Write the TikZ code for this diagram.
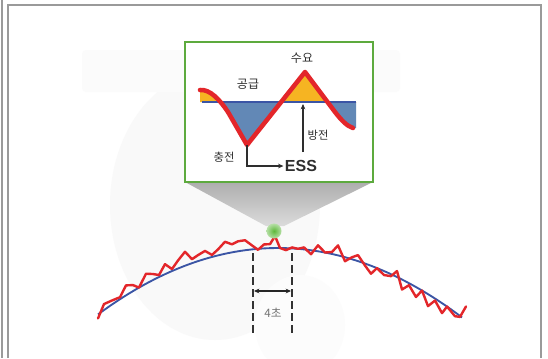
\documentclass[tikz,border=0pt]{standalone}
\usepackage{fontspec}
\setmainfont{Liberation Sans}
\newfontfamily\kr{Noto Sans CJK KR}
\usetikzlibrary{arrows.meta}
\definecolor{framegray}{HTML}{9A9A9A}
\definecolor{boxgreen}{HTML}{5DAA3E}
\definecolor{redline}{HTML}{E3262A}
\definecolor{blueline}{HTML}{3B55A5}
\definecolor{bluefill}{HTML}{6288B6}
\definecolor{orangefill}{HTML}{F6B422}
\definecolor{txt}{HTML}{2E2E2E}
\definecolor{dotgreen}{HTML}{5DB83A}
\begin{document}
\begin{tikzpicture}[x=0.75pt,y=-0.75pt,
  declare function={yc(\x)=248+(0.04528*(\x-278))^2;},
  lbl/.style={font=\kr\fontsize{9}{10}\selectfont, text=txt, inner sep=0pt},
  framestyle/.style={draw=framegray, line width=1.1pt},
  conn/.style={draw=txt, line width=0.8pt},
  dashv/.style={draw=black!80, line width=1.3pt, dash pattern=on 6pt off 3pt},
  jag/.style={draw=redline, line width=1.8pt, line join=round, line cap=round},
  arc/.style={draw=blueline, line width=1.4pt}]
\useasboundingbox (0,0) rectangle (548,358);
\fill[white] (0,0) rectangle (548,358);
% faint background shapes
\fill[black!2.5] (215,205) ellipse [x radius=105, y radius=135];
\fill[yellow!3!black!1.5] (300,325) ellipse [x radius=45, y radius=50];
\fill[black!1.5, rounded corners=3pt] (82,50) rectangle (400,92);
% frame
\draw[framestyle] (2,0) -- (2,358);
\draw[framestyle] (8,358) -- (8,5) -- (541,5) -- (541,358);
% funnel
\shade[top color=black!32, bottom color=black!14] (185,182) -- (373,182) -- (284,226) -- (266,226) -- cycle;
% green box
\coordinate (bxtl) at (185,42);
\coordinate (bxbr) at (373,182);
\filldraw[fill=white, draw=boxgreen, line width=2.2pt] (bxtl) rectangle (bxbr);
% inset fills
\def\insetcurve{(200,90) .. controls (210,89) and (220,100) .. (228,112) -- (247,145) -- (305,72) -- (335,112) .. controls (342,121) and (347,126) .. (353,128)}
\begin{scope}
  \clip (202,102) rectangle (356,180);
  \fill[bluefill] \insetcurve -- (356,128) -- (356,102) -- (200,102) -- cycle;
\end{scope}
\begin{scope}
  \clip (196,50) rectangle (356,102);
  \fill[orangefill] \insetcurve -- (356,128) -- (356,102) -- (200,102) -- cycle;
\end{scope}
\draw[blueline, line width=2pt] (202,102) -- (356,102);
\draw[redline, line width=3.4pt, line join=round, line cap=round] \insetcurve;
% inset labels
\coordinate (vmin) at (247,145);
\node[lbl] (supply) at (248,84) {공급};
\node[lbl] (demand) at (302,58) {수요};
\node[lbl, font=\kr\fontsize{8.5}{10}\selectfont] (dis) at (318,135) {방전};
\node[lbl, font=\kr\fontsize{8.5}{10}\selectfont] (chg) at (224,157) {충전};
\node[inner sep=0pt, text=txt, font=\bfseries\fontsize{12}{13}\selectfont] (ess) at (301,166) {ESS};
\coordinate (disb) at (303,152);
\coordinate (dist) at (303,104);
\draw[conn, -{Stealth[length=4pt,width=3.5pt]}] (disb) -- (dist);
\draw[conn, -{Stealth[length=4pt,width=3.5pt]}] (vmin) |- ([xshift=-1pt]ess.west);
% main curves
\draw[arc] plot[domain=98:462, samples=60] (\x,{yc(\x)});
\draw[jag] (98,{yc(98)+4}) -- (104,{yc(104)-6}) -- (112,{yc(112)-4}) -- (120,{yc(120)-2})
 -- (126,{yc(126)-10}) -- (133,{yc(133)-6}) -- (139,{yc(139)+0}) -- (146,{yc(146)-10})
 -- (153,{yc(153)-6}) -- (159,{yc(159)-2}) -- (165,{yc(165)-10}) -- (172,{yc(172)-2})
 -- (178,{yc(178)-8}) -- (185,{yc(185)-14}) -- (192,{yc(192)-4}) -- (198,{yc(198)-6})
 -- (205,{yc(205)-8}) -- (212,{yc(212)-2}) -- (218,{yc(218)-6}) -- (225,{yc(225)-12})
 -- (232,{yc(232)-8}) -- (238,{yc(238)-10}) -- (245,{yc(245)-10}) -- (252,{yc(252)-4})
 -- (258,{yc(258)+1}) -- (264,{yc(264)-4}) -- (270,{yc(270)-4}) -- (275,{yc(275)-12})
 -- (280,{yc(280)+0}) -- (286,{yc(286)+2}) -- (292,{yc(292)-1}) -- (298,{yc(298)+0})
 -- (304,{yc(304)-2}) -- (311,{yc(311)+4}) -- (318,{yc(318)-6}) -- (325,{yc(325)+0})
 -- (332,{yc(332)-2}) -- (338,{yc(338)-10}) -- (345,{yc(345)+4}) -- (352,{yc(352)-2})
 -- (358,{yc(358)-6}) -- (365,{yc(365)+2}) -- (371,{yc(371)+8}) -- (377,{yc(377)+0})
 -- (384,{yc(384)+4}) -- (391,{yc(391)+2}) -- (397,{yc(397)-6}) -- (402,{yc(402)+10})
 -- (409,{yc(409)+2}) -- (416,{yc(416)+10}) -- (422,{yc(422)+0}) -- (428,{yc(428)+12})
 -- (435,{yc(435)+2}) -- (442,{yc(442)+10}) -- (447,{yc(447)+0}) -- (455,{yc(455)+4})
 -- (460,{yc(460)+1}) -- (466,{yc(466)-14});
% green dot
\shade[inner color=dotgreen, outer color=dotgreen!45] (274,231) circle [radius=7.5];
\node[circle, minimum size=11pt, inner sep=0pt] (dot) at (274,231) {};
% dashed interval
\coordinate (d1t) at (253,253);
\coordinate (d1b) at (253,333);
\coordinate (d2t) at (292,253);
\coordinate (d2b) at (292,333);
\draw[dashv] (d1t) -- (d1b);
\draw[dashv] (d2t) -- (d2b);
\coordinate (a1) at (254,291);
\coordinate (a2) at (291,291);
\draw[draw=black!85, line width=0.8pt, {Stealth[length=4pt,width=3.5pt]}-{Stealth[length=4pt,width=3.5pt]}] (a1) -- (a2);
\node[lbl, text=black!55, font=\kr\fontsize{8.7}{10}\selectfont] (sec) at (273,313) {4초};
\end{tikzpicture}
\end{document}
